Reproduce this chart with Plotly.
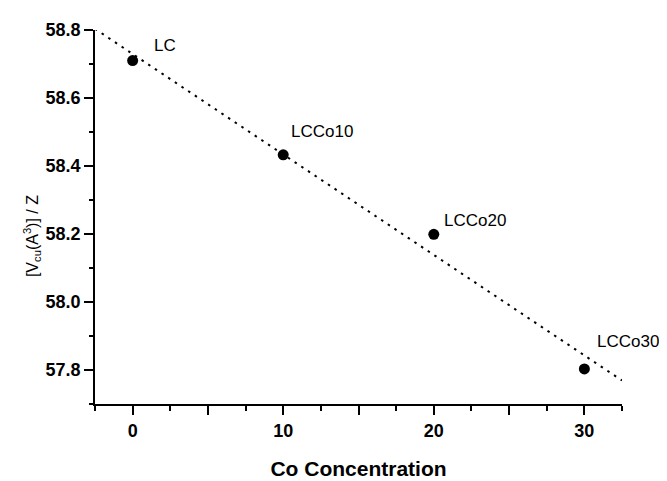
import numpy as np
import plotly.graph_objects as go

# Data
co_concentration = [0, 10, 20, 30]
volume_per_z = [58.71, 58.433, 58.199, 57.803]
sample_labels = ["LC", "LCCo10", "LCCo20", "LCCo30"]

y_tickvals = [57.8, 58.0, 58.2, 58.4, 58.6, 58.8]
y_ticktext = ["57.8", "58.0", "58.2", "58.4", "58.6", "58.8"]

x_range = [-2.5, 32.5]
y_range = [57.7, 58.8]

# Linear fit (dotted trend line) computed from the data
slope, intercept = np.polyfit(co_concentration, volume_per_z, 1)
fit_x = np.array(x_range)
fit_y = slope * fit_x + intercept

FONT = "Liberation Sans, Arial, sans-serif"

fig = go.Figure()
fig.add_trace(go.Scatter(
    x=fit_x, y=fit_y, mode="lines",
    line=dict(color="black", width=2, dash="2.5px,5.5px"),
    hoverinfo="skip", showlegend=False, cliponaxis=True,
))
fig.add_trace(go.Scatter(
    x=co_concentration, y=volume_per_z, mode="markers",
    marker=dict(color="black", size=11),
    showlegend=False, cliponaxis=False,
))

label_offsets = [(20, 15), (7, 23), (9, 14), (12, 27)]
for xv, yv, lab, (dx, dy) in zip(co_concentration, volume_per_z, sample_labels, label_offsets):
    fig.add_annotation(
        x=xv, y=yv, xref="x", yref="y", text=lab, showarrow=False,
        xanchor="left", yanchor="middle", xshift=dx, yshift=dy,
        borderpad=0,
        font=dict(family=FONT, size=17, color="black"),
    )

fig.add_annotation(
    x=0, y=0.449, xref="paper", yref="paper",
    text="[V<sub>cu</sub>(A<sup>3</sup>)] / Z", showarrow=False,
    textangle=-90, xanchor="center", yanchor="middle", xshift=-63,
    font=dict(family=FONT, size=16, color="black"),
)

fig.update_layout(
    width=667, height=481,
    margin=dict(l=87, r=53, t=22, b=74),
    paper_bgcolor="white", plot_bgcolor="white",
    font=dict(family=FONT, color="black"),
    xaxis=dict(
        range=x_range, showgrid=False, zeroline=False,
        showline=True, linecolor="black", linewidth=2,
        tickmode="linear", tick0=0, dtick=5, ticklabelstep=2,
        ticks="outside", ticklen=9, tickwidth=2, tickcolor="black",
        tickfont=dict(family=FONT, size=18, color="black", weight="bold"),
        minor=dict(dtick=2.5, tick0=-2.5, ticks="outside", ticklen=5,
                   tickwidth=2, tickcolor="black", showgrid=False),
        title=dict(text="Co Concentration", standoff=22,
                   font=dict(family=FONT, size=21, color="black", weight="bold")),
    ),
    yaxis=dict(
        range=y_range, showgrid=False, zeroline=False,
        showline=True, linecolor="black", linewidth=1.5,
        tickmode="array", tickvals=y_tickvals, ticktext=y_ticktext,
        ticks="outside", ticklen=9, tickwidth=1.5, tickcolor="black",
        tickfont=dict(family=FONT, size=18, color="black", weight="bold"),
        minor=dict(dtick=0.1, tick0=57.7, ticks="outside", ticklen=4,
                   tickwidth=1.5, tickcolor="black", showgrid=False),
    ),
)

fig.write_html("out.html")
